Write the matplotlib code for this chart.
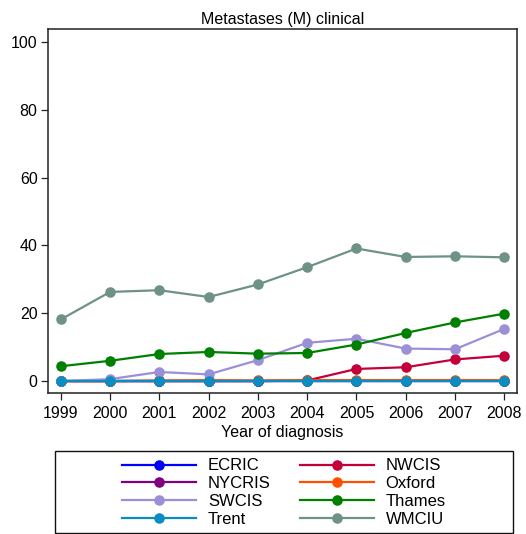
import matplotlib
matplotlib.use("Agg")
import matplotlib.pyplot as plt
from matplotlib.patches import Rectangle

plt.rcParams['font.family'] = ['Liberation Sans', 'DejaVu Sans']

years = [1999, 2000, 2001, 2002, 2003, 2004, 2005, 2006, 2007, 2008]

ecric = [0, 0, 0, 0, 0, 0, 0, 0, 0, 0]
nwcis = [0, 0, 0, 0, 0, 0.2, 3.6, 4.1, 6.4, 7.5]
nycris = [0, 0, 0, 0, 0, 0, 0, 0, 0, 0]
oxford = [0, 0, 0.2, 0.3, 0.2, 0.3, 0.3, 0.3, 0.3, 0.3]
swcis = [0, 0.6, 2.7, 2.0, 6.2, 11.3, 12.5, 9.6, 9.4, 15.4]
thames = [4.4, 6.0, 8.0, 8.6, 8.1, 8.3, 10.8, 14.2, 17.3, 19.9]
trent = [0, 0, 0, 0, 0, 0, 0, 0, 0, 0]
wmciu = [18.2, 26.3, 26.8, 24.8, 28.5, 33.6, 39.1, 36.6, 36.8, 36.5]

series = [
    ("ECRIC", ecric, "#0000FF"),
    ("NWCIS", nwcis, "#C4003A"),
    ("NYCRIS", nycris, "#800080"),
    ("Oxford", oxford, "#FF5000"),
    ("SWCIS", swcis, "#9A90D8"),
    ("Thames", thames, "#008000"),
    ("Trent", trent, "#0A8DC0"),
    ("WMCIU", wmciu, "#6E9284"),
]

fig = plt.figure(figsize=(5.26, 5.34), dpi=100)
ax = fig.add_axes([0.0913, 0.264, 0.8917, 0.6817])

handles = {}
for name, vals, col in series:
    h, = ax.plot(years, vals, color=col, lw=1.6, marker='o', ms=7.6,
                 markeredgewidth=0, label=name)
    handles[name] = h

ax.set_xlim(1998.74, 2008.26)
ax.set_ylim(-3.5, 103.8)
ax.set_xticks(years)
ax.set_yticks([0, 20, 40, 60, 80, 100])
ax.tick_params(axis='both', labelsize=11.5, length=5, width=0.9, color='#222222')
ax.tick_params(axis='y', pad=2.5)
ax.tick_params(axis='x', pad=4.5)
for s in ax.spines.values():
    s.set_linewidth(1.1)
    s.set_color('#222222')

ax.set_title("Metastases (M) clinical", fontsize=11.5, pad=3.5)
ax.set_xlabel("Year of diagnosis", fontsize=11.5, labelpad=2.5)

# legend box
fig.patches.append(Rectangle((55 / 526, 0.002), (513 - 55) / 526, (533 - 451) / 534,
                             transform=fig.transFigure, fill=False,
                             edgecolor='#111111', lw=1.0))

order = ["ECRIC", "NYCRIS", "SWCIS", "Trent", "NWCIS", "Oxford", "Thames", "WMCIU"]
fig.legend([handles[n] for n in order], order, loc='center',
           bbox_to_anchor=(284 / 526, 1 - 492.5 / 534), ncol=2, frameon=False,
           fontsize=12, handlelength=4.45, handletextpad=0.7,
           columnspacing=1.75, labelspacing=0.16, numpoints=1,
           borderpad=0, borderaxespad=0)

fig.savefig("out.png", dpi=100)
